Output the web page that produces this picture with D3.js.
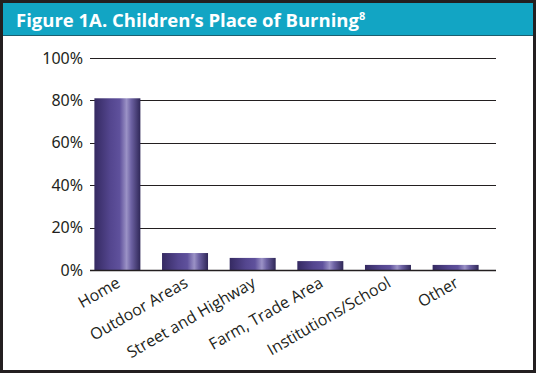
<!DOCTYPE html>
<html>
<head>
<meta charset="utf-8">
<script src="https://cdn.jsdelivr.net/npm/d3@7"></script>
<style>
  body { margin: 0; background: #fff; }
  #chart { width: 540px; height: 375px; }
</style>
</head>
<body>
<div id="chart"></div>
<script>
const categories = ["Home", "Outdoor Areas", "Street and Highway", "Farm, Trade Area", "Institutions/School", "Other"];
const values = [81, 8, 5.7, 4.2, 2.4, 2.4];
const yTicks = [0, 20, 40, 60, 80, 100];

const svg = d3.select("#chart").append("svg")
    .attr("width", 540)
    .attr("height", 375);

// gradient for the cylinder-ish bars
const defs = svg.append("defs");
const grad = defs.append("linearGradient")
    .attr("id", "barGrad")
    .attr("x1", "0%").attr("x2", "100%").attr("y1", "0%").attr("y2", "0%");
[["0%", "#352a62"], ["35%", "#54468f"], ["55%", "#5f519c"], ["70%", "#9b92c6"], ["80%", "#6d62a3"], ["100%", "#2f2757"]]
    .forEach(function (s) {
        grad.append("stop").attr("offset", s[0]).attr("stop-color", s[1]);
    });

// frame and title bar
svg.append("rect")
    .attr("x", 1.5).attr("y", 1.5)
    .attr("width", 533).attr("height", 370)
    .attr("fill", "#fff")
    .attr("stroke", "#231f20")
    .attr("stroke-width", 3);

svg.append("rect")
    .attr("x", 3).attr("y", 3)
    .attr("width", 530).attr("height", 32)
    .attr("fill", "#12a5c4");

svg.append("line")
    .attr("x1", 3).attr("x2", 533)
    .attr("y1", 35.5).attr("y2", 35.5)
    .attr("stroke", "#1c5f70")
    .attr("stroke-width", 1);

const title = svg.append("text")
    .attr("x", 16).attr("y", 27)
    .attr("fill", "#fff")
    .style("font-family", "'Open Sans', sans-serif")
    .style("font-weight", "bold")
    .style("font-size", "18.5px")
    .text("Figure 1A. Children\u2019s Place of Burning");
title.append("tspan")
    .attr("dy", -7)
    .style("font-size", "11px")
    .text("8");

const margin = {top: 58, right: 44, bottom: 105, left: 91};

const g = svg.append("g")
    .attr("transform", "translate(" + margin.left + "," + margin.top + ")");

let x = d3.scaleBand().domain(categories).range([0, 391]).paddingInner(0.32).paddingOuter(0.05);
let y = d3.scaleLinear().domain([0, 100]).range([212, 0]);

// gridlines
g.selectAll(".grid")
    .data(yTicks.filter(function (d) { return d > 0; }))
    .enter().append("line")
    .attr("class", "grid")
    .attr("x1", -1).attr("x2", 405)
    .attr("y1", function (d) { return Math.round(y(d)) + 0.5; })
    .attr("y2", function (d) { return Math.round(y(d)) + 0.5; })
    .attr("stroke", "#231f20")
    .attr("stroke-width", 1.2);

// y tick labels
g.selectAll(".ylab")
    .data(yTicks)
    .enter().append("text")
    .attr("class", "ylab")
    .attr("x", -8)
    .attr("y", function (d) { return y(d); })
    .attr("dy", "0.35em")
    .attr("text-anchor", "end")
    .style("font-family", "'Noto Sans', sans-serif")
    .style("font-size", "16px")
    .attr("fill", "#231f20")
    .text(function (d) { return d + "%"; });

// bars
g.selectAll(".bar")
    .data(values)
    .enter().append("rect")
    .attr("class", "bar")
    .attr("x", function (d, i) { return x(categories[i]); })
    .attr("width", x.bandwidth())
    .attr("y", function (d) { return y(d); })
    .attr("height", function (d) { return y(0) - y(d); })
    .attr("fill", "url(#barGrad)");

// baseline
g.append("line")
    .attr("x1", -1).attr("x2", 405)
    .attr("y1", y(0) + 0.5).attr("y2", y(0) + 0.5)
    .attr("stroke", "#231f20")
    .attr("stroke-width", 1.5);

// category labels
g.selectAll(".xlab")
    .data(categories)
    .enter().append("text")
    .attr("class", "xlab")
    .attr("text-anchor", "end")
    .attr("transform", function (d) {
        return "translate(" + (x(d) + x.bandwidth() / 2 + 4) + "," + (y(0) + 16) + ") rotate(-30)";
    })
    .style("font-family", "'Open Sans', sans-serif")
    .style("font-size", "16px")
    .attr("fill", "#231f20")
    .text(function (d) { return d; });
</script>
</body>
</html>
